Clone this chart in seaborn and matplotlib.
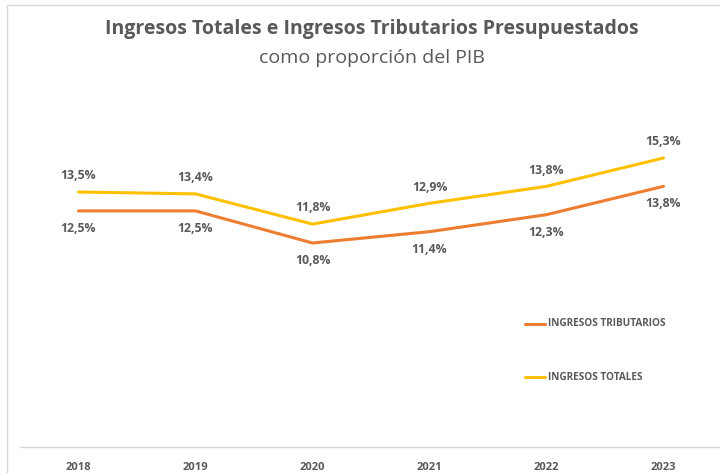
import matplotlib
matplotlib.use("Agg")
import matplotlib.pyplot as plt
from matplotlib.lines import Line2D
import pandas as pd
import seaborn as sns

years = ["2018", "2019", "2020", "2021", "2022", "2023"]
totales = [13.5, 13.4, 11.8, 12.9, 13.8, 15.3]
tributarios = [12.5, 12.5, 10.8, 11.4, 12.3, 13.8]

NAME_TRIB = "INGRESOS TRIBUTARIOS"
NAME_TOT = "INGRESOS TOTALES"
COLORS = {NAME_TRIB: "#ED7D31", NAME_TOT: "#FFC000"}
TXT = "#595959"

df = pd.DataFrame({
    "year": years * 2,
    "value": tributarios + totales,
    "serie": [NAME_TRIB] * len(years) + [NAME_TOT] * len(years),
})
df["x"] = df.groupby("serie").cumcount()

sns.set_style("white")
plt.rcParams["font.family"] = ["Open Sans", "DejaVu Sans"]

fig = plt.figure(figsize=(7.2, 4.73), dpi=100)
ax = fig.add_axes([20 / 720, 26 / 473, 702 / 720, 340 / 473])

sns.lineplot(data=df, x="x", y="value", hue="serie", palette=COLORS,
             hue_order=[NAME_TRIB, NAME_TOT], lw=2.2, ax=ax, legend=False)

ax.set_xlim(-0.5, 5.5)
ax.set_ylim(0, 18)
ax.set_xticks(range(len(years)))
ax.set_xticklabels(years, fontsize=8, fontweight="bold", color=TXT)
ax.tick_params(axis="x", length=0, pad=11)
ax.set_yticks([])
ax.set_xlabel("")
ax.set_ylabel("")
for s in ["top", "right", "left"]:
    ax.spines[s].set_visible(False)
ax.spines["bottom"].set_color("#D9D9D9")
ax.spines["bottom"].set_linewidth(1)

fmt = lambda v: f"{v:.1f}%".replace(".", ",")
for i, v in enumerate(totales):
    ax.annotate(fmt(v), (i, v), xytext=(0, 7), textcoords="offset points",
                ha="center", va="bottom", fontsize=8.8, fontweight="bold", color=TXT)
for i, v in enumerate(tributarios):
    ax.annotate(fmt(v), (i, v), xytext=(0, -8), textcoords="offset points",
                ha="center", va="top", fontsize=8.8, fontweight="bold", color=TXT)

# leyenda manual a la derecha
for name, ypix in [(NAME_TRIB, 324), (NAME_TOT, 377)]:
    yf = 1 - ypix / 473
    fig.add_artist(Line2D([525 / 720, 545 / 720], [yf, yf], color=COLORS[name], lw=2.2))
    fig.text(548 / 720, yf, name, fontsize=7.2, fontweight="bold", color=TXT, va="center", ha="left")

fig.text(372 / 720, 1 - 29 / 473, "Ingresos Totales e Ingresos Tributarios Presupuestados",
         fontsize=14, fontweight="bold", color=TXT, ha="center", va="center")
fig.text(372 / 720, 1 - 58 / 473, "como proporción del PIB",
         fontsize=14, color=TXT, ha="center", va="center")

# marco del gráfico
fig.add_artist(Line2D([7 / 720, 7 / 720], [0, 1 - 5 / 473], color="#D9D9D9", lw=1))
fig.add_artist(Line2D([7 / 720, 1], [1 - 5 / 473, 1 - 5 / 473], color="#D9D9D9", lw=1))

fig.savefig("out.png", dpi=100, facecolor="white")
